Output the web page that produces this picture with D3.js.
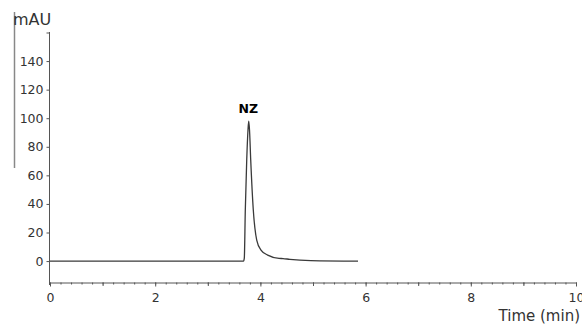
<!DOCTYPE html>
<html>
<head>
<meta charset="utf-8">
<script src="https://cdn.jsdelivr.net/npm/d3@7"></script>
<style>
  body { margin: 0; background: #fff; }
  text { font-family: "DejaVu Sans", sans-serif; fill: #222; }
</style>
</head>
<body>
<div id="chart"></div>
<script>
let width = 582,
    height = 324;

// chromatogram trace, time in min / absorbance in mAU
const times  = [0, 3.679, 3.694, 3.713, 3.740, 3.764, 3.778, 3.793, 3.816, 3.865, 3.930, 4.011, 4.139, 4.354, 4.43, 4.56, 4.96, 5.856];
const values = [0, 0,     2.1,   35.7,  70.7,  91.7,  98,    91.7,  70.7,  35.7,  14.7,  7.7,   4.2,   1.9,   1.75, 1.2,  0.35, 0];

const yTicks = [0, 20, 40, 60, 80, 100, 120, 140, 160];
const xMajorTicks = [0, 2, 4, 6, 8, 10];
const xMidTicks = [1, 3, 5, 7, 9];
const peakLabel = { name: "NZ", time: 3.778, value: 98 };

const svg = d3.select("#chart")
    .append("svg")
    .attr("width", width)
    .attr("height", height);

const x = d3.scaleLinear().domain([0, 10]).range([50, 576]);
const y = d3.scaleLinear().domain([-15, 160]).range([282.5, 32.5]);

// stray bracket line on the far left
svg.append("line")
    .attr("x1", 14.5).attr("x2", 14.5)
    .attr("y1", 12).attr("y2", 168)
    .style("stroke", "#888")
    .style("stroke-width", 1.5);

// y axis
const yAxis = svg.append("g")
    .attr("transform", "translate(49.5,0)")
    .call(d3.axisLeft(y).tickValues(yTicks).tickSize(3).tickPadding(3)
      .tickFormat(function (d) { return d === 160 ? "" : d; }));
yAxis.select(".domain").remove();
yAxis.append("line")
    .attr("y1", 32).attr("y2", 285)
    .style("stroke", "#555");

// x axis: minor, mid, major ticks
const xMinor = svg.append("g")
    .attr("transform", "translate(0,282.5)")
    .call(d3.axisBottom(x).tickValues(d3.range(0, 10.01, 0.2)).tickSize(2).tickFormat(""));
xMinor.select(".domain").remove();

const xMid = svg.append("g")
    .attr("transform", "translate(0,282.5)")
    .call(d3.axisBottom(x).tickValues(xMidTicks).tickSize(3.5).tickFormat(""));
xMid.select(".domain").remove();

const xAxis = svg.append("g")
    .attr("transform", "translate(0,282.5)")
    .call(d3.axisBottom(x).tickValues(xMajorTicks).tickSize(4).tickPadding(7).tickSizeOuter(0));
xAxis.select(".domain").style("stroke", "#555");

svg.selectAll(".tick line").style("stroke", "#555");
svg.selectAll(".tick text")
    .style("font-size", "12.5px")
    .style("fill", "#333");

// axis titles
svg.append("text")
    .attr("x", 13)
    .attr("y", 25)
    .style("font-size", "16px")
    .style("fill", "#333")
    .text("mAU");

svg.append("text")
    .attr("x", 580)
    .attr("y", 321)
    .attr("text-anchor", "end")
    .style("font-size", "15px")
    .style("fill", "#333")
    .text("Time (min)");

// trace
const pts = times.map(function (t, i) { return [t, values[i]]; });
const line = d3.line()
    .x(function (d) { return x(d[0]); })
    .y(function (d) { return y(d[1]); })
    .curve(d3.curveMonotoneX);

svg.append("path")
    .datum(pts)
    .attr("d", line)
    .style("fill", "none")
    .style("stroke", "#3a3a3a")
    .style("stroke-width", 1.3);

// peak label
svg.append("text")
    .attr("x", x(peakLabel.time) - 0.5)
    .attr("y", y(peakLabel.value) - 8)
    .attr("text-anchor", "middle")
    .style("font-size", "12.5px")
    .style("font-weight", "bold")
    .style("fill", "#000")
    .text(peakLabel.name);
</script>
</body>
</html>
